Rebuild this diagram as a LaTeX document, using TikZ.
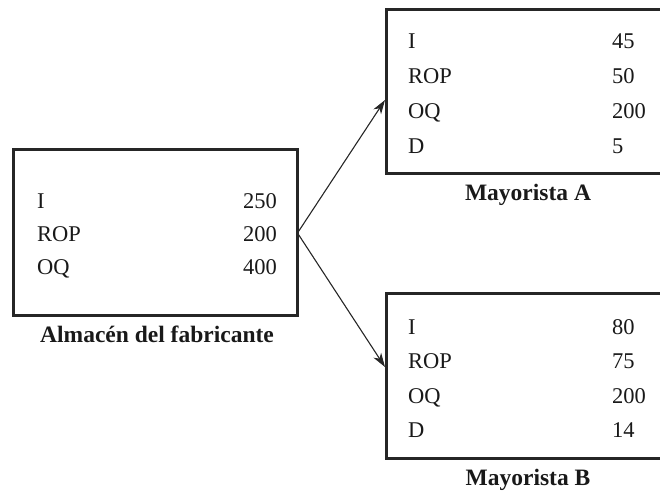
\documentclass[tikz,border=0pt]{standalone}
\usepackage{fontspec}
\setmainfont{Liberation Serif}
\usetikzlibrary{arrows.meta}
\begin{document}
\begin{tikzpicture}[x=1pt,y=-1pt,
  boxst/.style={draw=black!85,line width=3pt},
  txt/.style={inner sep=0pt,anchor=base west,font=\fontsize{22.5}{26}\selectfont,text=black!90},
  val/.style={inner sep=0pt,anchor=base east,font=\fontsize{22.5}{26}\selectfont,text=black!90},
  lbl/.style={inner sep=0pt,anchor=base,font=\fontsize{23.5}{27}\selectfont\bfseries,text=black!90},
  arr/.style={draw=black!85,line width=1.1pt,-{Stealth[length=14pt,width=9pt,inset=4pt]}}]
\useasboundingbox (0,0) rectangle (660,498);
\clip (0,0) rectangle (660,498);
% boxes
\node[boxst,minimum width=284pt,minimum height=166pt,inner sep=0pt] (M) at (155,232) {};
\node[boxst,minimum width=290pt,minimum height=164pt,inner sep=0pt] (A) at (531,91) {};
\node[boxst,minimum width=290pt,minimum height=165pt,inner sep=0pt] (B) at (531,375.5) {};
% left box
\node[txt] (m1) at (37,208) {I};
\node[txt] (m2) at (37,241) {ROP};
\node[txt] (m3) at (37,274) {OQ};
\node[val] (m1v) at (277,208) {250};
\node[val] (m2v) at (277,241) {200};
\node[val] (m3v) at (277,274) {400};
\node[lbl] (ml) at (157,342) {Almacén del fabricante};
% box A
\node[txt] (a1) at (408,48) {I};
\node[txt] (a2) at (408,83) {ROP};
\node[txt] (a3) at (408,118) {OQ};
\node[txt] (a4) at (408,153) {D};
\node[txt] (a1v) at (612,48) {45};
\node[txt] (a2v) at (612,83) {50};
\node[txt] (a3v) at (612,118) {200};
\node[txt] (a4v) at (612,153) {5};
\node[lbl] (al) at (528,200) {Mayorista A};
% box B
\node[txt] (b1) at (408,334) {I};
\node[txt] (b2) at (408,368.5) {ROP};
\node[txt] (b3) at (408,403) {OQ};
\node[txt] (b4) at (408,437.5) {D};
\node[txt] (b1v) at (612,334) {80};
\node[txt] (b2v) at (612,368.5) {75};
\node[txt] (b3v) at (612,403) {200};
\node[txt] (b4v) at (612,437.5) {14};
\node[lbl] (bl) at (528,485) {Mayorista B};
% arrows
\coordinate (s) at (297.5,233);
\coordinate (ea) at (385,100);
\coordinate (eb) at (385,367);
\draw[arr] (s) -- (ea);
\draw[arr] (s) -- (eb);
\end{tikzpicture}
\end{document}
